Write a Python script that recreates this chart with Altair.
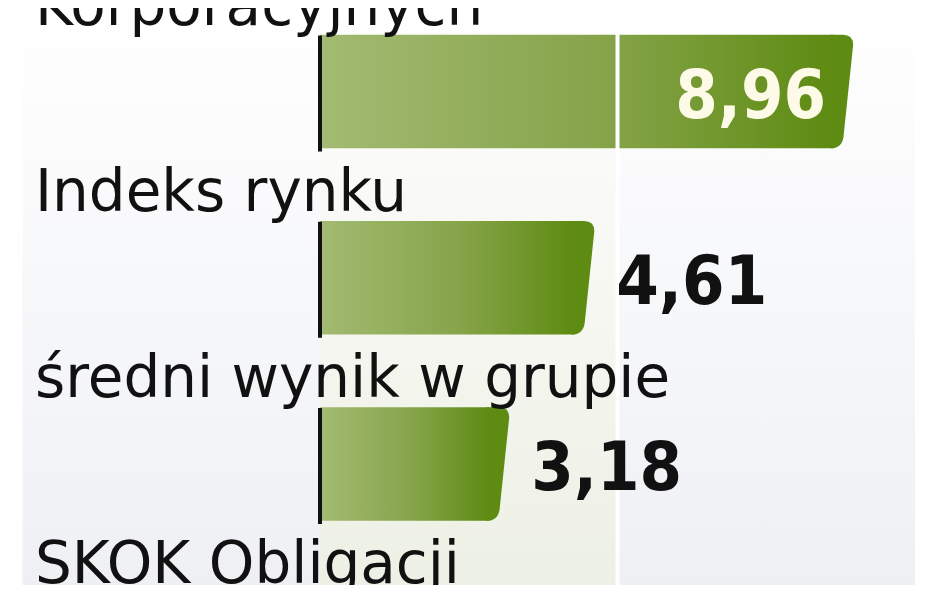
import altair as alt
import pandas as pd

categories = ["Korporacyjnych", "Indeks rynku", "średni wynik w grupie", "SKOK Obligacji"]
values = [8.96, 4.61, 3.18, None]
value_labels = ["8,96", "4,61", "3,18", ""]
label_inside = [True, False, False, False]

band_starts = [-5, 0, 5]
band_ends = [0, 5, 10]
band_kind = ["side", "mid", "side"]

df = pd.DataFrame({"cat": categories, "value": values, "lab": value_labels, "inside": label_inside})
df["zero"] = 0
bands = pd.DataFrame({"x0": band_starts, "x1": band_ends, "kind": band_kind})
grid = pd.DataFrame({"g": [5]})

xs = alt.Scale(domain=[-5.244, 10.42], nice=False, zero=False)
ys = alt.Scale(domain=categories, range=[-9.6, 735.4], paddingInner=0.39, paddingOuter=0.195)

def X(f):
    return alt.X(f, type="quantitative", scale=xs, axis=None)

Y = alt.Y("cat:N", sort=categories, scale=ys, axis=None)

def vgrad(c0, c1):
    return alt.LinearGradient(gradient="linear", x1=0, y1=0, x2=0, y2=1,
                              stops=[alt.GradientStop(color=c0, offset=0),
                                     alt.GradientStop(color=c1, offset=1)])

side = alt.Chart(bands).transform_filter("datum.kind == 'side'").mark_rect(
    color=vgrad("#ffffff", "#eef0f4")).encode(x=X("x0"), x2="x1")
mid = alt.Chart(bands).transform_filter("datum.kind == 'mid'").mark_rect(
    color=vgrad("#ffffff", "#edf0e4")).encode(x=X("x0"), x2="x1")

END_GREEN = "#5e8b12"
bar_grad = alt.LinearGradient(gradient="linear", x1=0, y1=0, x2=1, y2=0,
                              stops=[alt.GradientStop(color="#a3ba72", offset=0),
                                     alt.GradientStop(color="#86a44a", offset=0.55),
                                     alt.GradientStop(color=END_GREEN, offset=1)])

bars = alt.Chart(df).transform_filter("isValid(datum.value)").mark_bar(
    color=bar_grad, x2Offset=-20
).encode(x=X("zero"), x2="value", y=Y)

# slanted, rounded end cap of each bar
cap_path = ("M -0.40 -1 L -0.18 -1 Q 0 -1 0 -0.82 "
            "L -0.17 0.80 Q -0.20 1 -0.40 1 Z")
caps = alt.Chart(df).transform_filter("isValid(datum.value)").mark_point(
    shape=cap_path, size=12905, filled=True, color=END_GREEN, opacity=1, strokeWidth=0
).encode(x=X("value"), y=Y)

gridrule = alt.Chart(grid).mark_rule(color="white", strokeWidth=4).encode(x=X("g"))

axis_tick = alt.Chart(df).transform_filter("isValid(datum.value)").mark_tick(
    color="#111111", size=116, thickness=4, opacity=1, yOffset=2
).encode(x=X("zero"), y=Y)

cat_text = alt.Chart(df).mark_text(
    align="left", baseline="alphabetic", dy=-67, font="DejaVu Sans", fontSize=58, color="#111111"
).encode(x=alt.value(27), y=Y, text="cat:N")

val_out = alt.Chart(df).transform_filter("isValid(datum.value) && !datum.inside").mark_text(
    align="left", baseline="alphabetic", dx=22, dy=26, font="DejaVu Sans Condensed, DejaVu Sans",
    fontWeight="bold", fontSize=68, color="#111111"
).encode(x=X("value"), y=Y, text="lab:N")

val_in = alt.Chart(df).transform_filter("isValid(datum.value) && datum.inside").mark_text(
    align="right", baseline="alphabetic", dx=-27, dy=26, font="DejaVu Sans Condensed, DejaVu Sans",
    fontWeight="bold", fontSize=68, color="#fdfbe8"
).encode(x=X("value"), y=Y, text="lab:N")

chart = alt.layer(side, mid, bars, caps, gridrule, axis_tick, cat_text, val_out, val_in).properties(
    width=932, height=577, padding=0, autosize="none", background="white"
).configure_view(stroke=None)

chart.save("out.html", embed_options={"renderer": "svg", "actions": False})
